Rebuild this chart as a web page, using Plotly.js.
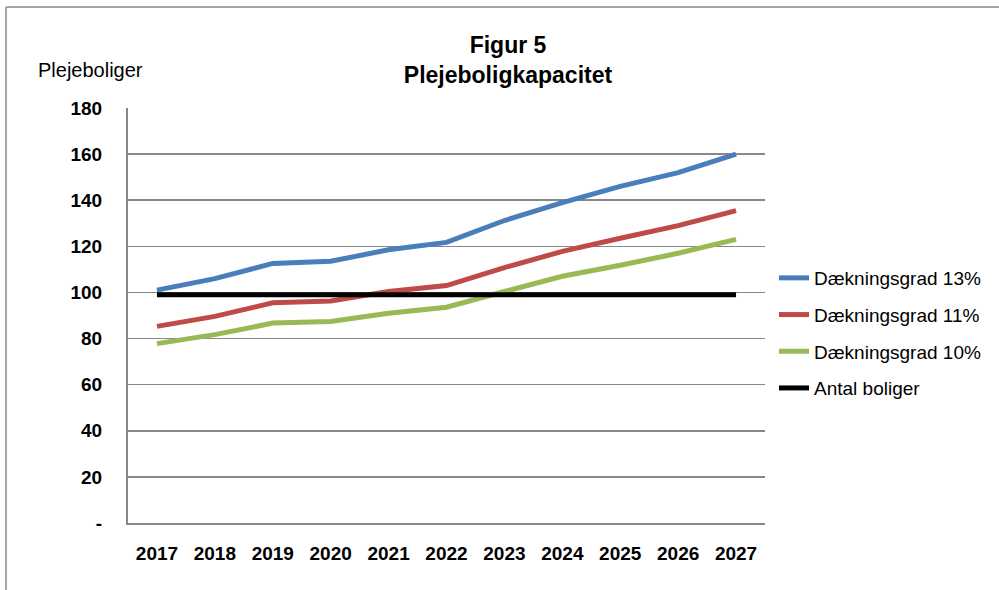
<!DOCTYPE html>
<html>
<head>
<meta charset="utf-8">
<script src="https://cdn.plot.ly/plotly-3.0.1.min.js"></script>
<style>html,body{margin:0;padding:0;background:#fff;}#chart{width:999px;height:590px;}</style>
</head>
<body>
<div id="chart"></div>
<script>
const years = ["2017","2018","2019","2020","2021","2022","2023","2024","2025","2026","2027"];
const daekning13 = [101, 106, 112.6, 113.5, 118.5, 121.7, 131.2, 139, 146, 152, 160];
const daekning11 = [85.3, 89.6, 95.5, 96.3, 100.4, 103, 110.8, 117.8, 123.5, 129, 135.5];
const daekning10 = [77.8, 81.7, 86.7, 87.4, 91, 93.6, 100.4, 107, 111.8, 117, 123];
const antalBoliger = [99, 99, 99, 99, 99, 99, 99, 99, 99, 99, 99];
const yTickVals = [0, 20, 40, 60, 80, 100, 120, 140, 160, 180];
const yTickText = ["-", "20", "40", "60", "80", "100", "120", "140", "160", "180"];

const FONT = "Liberation Sans, Arial, sans-serif";
const W = 999, H = 590, L = 128, R = 234, T = 108, B = 67;
const pw = W - L - R, ph = H - T - B;
const px = x => (x - L) / pw;
const py = y => (H - B - y) / ph;

function tr(name, y, color, grp) {
  return {x: years, y: y, name: name, type: "scatter", mode: "lines",
    line: {color: color, width: 5}, legendgroup: grp};
}
const data = [
  tr("Dækningsgrad 13%", daekning13, "#4A7EBB", "a"),
  tr("Dækningsgrad 11%", daekning11, "#BE4B48", "b"),
  tr("Dækningsgrad 10%", daekning10, "#98B954", "c"),
  tr("Antal boliger", antalBoliger, "#000000", "d")
];

const tickFont = {family: FONT, size: 19, color: "#000", weight: "bold"};
const layout = {
  width: W, height: H,
  margin: {l: L, r: R, t: T, b: B},
  paper_bgcolor: "#fff", plot_bgcolor: "#fff",
  font: {family: FONT, size: 19, color: "#000"},
  title: {text: "<b>Figur 5<br>Plejeboligkapacitet</b>", x: 508 / W, xanchor: "center",
    y: 1 - 53 / H, yanchor: "middle", font: {family: FONT, size: 23, color: "#000"}},
  xaxis: {type: "category", range: [-0.5, 10.5], showgrid: false, showline: true, linecolor: "#888", linewidth: 2,
    ticks: "", ticklabelstandoff: 12, tickfont: tickFont,
    zeroline: false, fixedrange: true},
  yaxis: {range: [0, 180], tickvals: yTickVals, ticktext: yTickText, showgrid: true,
    gridcolor: "#888", gridwidth: 1.5, showline: true, linecolor: "#888", linewidth: 2,
    ticks: "", ticklabelstandoff: 20, tickfont: tickFont,
    zeroline: false, fixedrange: true},
  showlegend: true,
  legend: {x: px(774), xanchor: "left", y: py(259), yanchor: "top", traceorder: "grouped",
    tracegroupgap: 9, font: {family: FONT, size: 19, color: "#000"}, bgcolor: "rgba(0,0,0,0)"},
  annotations: [{text: "Plejeboliger", xref: "paper", yref: "paper", x: px(36), y: py(70),
    xanchor: "left", yanchor: "middle", showarrow: false, font: {family: FONT, size: 20, color: "#000"}}],
  shapes: [
    {type: "line", xref: "paper", yref: "paper", x0: px(6), x1: px(6), y0: py(7), y1: py(600),
      line: {color: "#888", width: 1.5}},
    {type: "line", xref: "paper", yref: "paper", x0: px(6), x1: px(1010), y0: py(7), y1: py(7),
      line: {color: "#888", width: 1.5}}
  ]
};
Plotly.newPlot("chart", data, layout, {displayModeBar: false, staticPlot: true});
</script>
</body>
</html>
